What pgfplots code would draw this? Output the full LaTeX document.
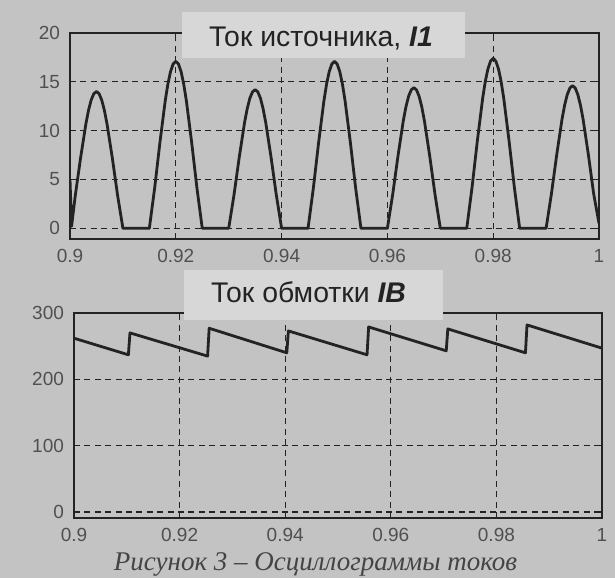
\documentclass[border=0pt]{standalone}
\usepackage{fontspec}
\setmainfont{Liberation Sans}
\newfontfamily\capfont{Liberation Serif}
\usepackage{pgfplots}
\pgfplotsset{compat=1.18}
\definecolor{bg}{HTML}{C3C3C3}
\definecolor{titlebg}{HTML}{D7D7D7}
\definecolor{ink}{HTML}{232323}
\definecolor{ticktext}{HTML}{505050}
\pgfplotsset{
  osc/.style={
    scale only axis,
    anchor=south west,
    xmin=0.9, xmax=1,
    xtick={0.9,0.92,0.94,0.96,0.98,1},
    xticklabels={0.9,0.92,0.94,0.96,0.98,1},
    grid=major,
    major grid style={ink, line width=0.6pt, dash pattern=on 3pt off 2.2pt},
    axis line style={ink, line width=0.9pt},
    tick style={ink, line width=0.6pt},
    major tick length=2pt,
    tick align=inside,
    /pgf/number format/assume math mode=true,
    ticklabel style={font=\fontsize{9.5}{11}\selectfont, text=ticktext},
    xticklabel style={yshift=-1.5pt},
    yticklabel style={xshift=-1.5pt},
    axis background/.style={fill=bg},
  }
}
\begin{document}
\begin{tikzpicture}
\fill[bg] (0,0) rectangle (307.5pt,289pt);
\path[use as bounding box] (0,0) rectangle (307.5pt,289pt);

\begin{axis}[osc, at={(35pt,169.5pt)}, width=264.5pt, height=103pt,
  ymin=-1.1, ymax=20, ytick={0,5,10,15,20}]
\addplot[ink, line width=1.4pt, line join=round] coordinates {
(0.9,5.0) (0.9003,0.2) (0.901,3.36) (0.902,7.20) (0.903,10.68) (0.9035,12.08) (0.904,13.13) (0.9045,13.78) (0.905,14.0) (0.9055,13.78) (0.906,13.13) (0.9065,12.08) (0.907,10.68) (0.908,7.20) (0.909,3.36) (0.910,0) (0.915,0)
(0.916,4.10) (0.917,8.79) (0.918,13.05) (0.9185,14.76) (0.919,16.04) (0.9195,16.83) (0.92,17.1) (0.9205,16.83) (0.921,16.04) (0.9215,14.76) (0.922,13.05) (0.923,8.79) (0.924,4.10) (0.925,0) (0.93,0)
(0.931,3.41) (0.932,7.30) (0.933,10.83) (0.9335,12.25) (0.934,13.32) (0.9345,13.97) (0.935,14.2) (0.9355,13.97) (0.936,13.32) (0.9365,12.25) (0.937,10.83) (0.938,7.30) (0.939,3.41) (0.94,0) (0.945,0)
(0.946,4.10) (0.947,8.79) (0.948,13.05) (0.9485,14.76) (0.949,16.04) (0.9495,16.83) (0.95,17.1) (0.9505,16.83) (0.951,16.04) (0.9515,14.76) (0.952,13.05) (0.953,8.79) (0.954,4.10) (0.955,0) (0.96,0)
(0.961,3.46) (0.962,7.40) (0.963,10.99) (0.9635,12.43) (0.964,13.51) (0.9645,14.17) (0.965,14.4) (0.9655,14.17) (0.966,13.51) (0.9665,12.43) (0.967,10.99) (0.968,7.40) (0.969,3.46) (0.97,0) (0.975,0)
(0.976,4.18) (0.977,8.94) (0.978,13.28) (0.9785,15.02) (0.979,16.32) (0.9795,17.12) (0.98,17.4) (0.9805,17.12) (0.981,16.32) (0.9815,15.02) (0.982,13.28) (0.983,8.94) (0.984,4.18) (0.985,0) (0.99,0)
(0.991,3.50) (0.992,7.50) (0.993,11.14) (0.9935,12.60) (0.994,13.69) (0.9945,14.37) (0.995,14.6) (0.9955,14.37) (0.996,13.69) (0.9965,12.60) (0.997,11.14) (0.998,7.50) (0.999,3.50) (1.0,0.5)
};
\end{axis}

\begin{axis}[osc, at={(37pt,30pt)}, width=264pt, height=102.5pt,
  ymin=-9, ymax=300, ytick={0,100,200,300}]
\addplot[ink, line width=1.4pt, line join=round] coordinates {
(0.9,262) (0.9103,237) (0.9106,270) (0.9253,235) (0.9256,277) (0.9403,240) (0.9406,273) (0.9555,237) (0.9558,279) (0.9705,243) (0.9708,276) (0.9855,240) (0.9858,282) (1.0,247)
};
\end{axis}

% title boxes
\fill[titlebg] (91pt,260pt) rectangle (232.5pt,283pt);
\fill[titlebg] (92pt,129pt) rectangle (221.5pt,154pt);
\node[anchor=base, inner sep=0pt, text=ink, font=\fontsize{14.2}{16}\selectfont] at (160.5pt,265.5pt) {Ток источника, \textbf{\textit{I1}}};
\node[anchor=base, inner sep=0pt, text=ink, font=\fontsize{14.2}{16}\selectfont] at (154.25pt,137.5pt) {Ток обмотки \textbf{\textit{IB}}};

% caption
\node[anchor=base, inner sep=0pt, text=ink!85, font=\capfont\itshape\fontsize{13.5}{16}\selectfont] at (157.75pt,3.6pt) {Рисунок 3 – Осциллограммы токов};
\end{tikzpicture}
\end{document}
